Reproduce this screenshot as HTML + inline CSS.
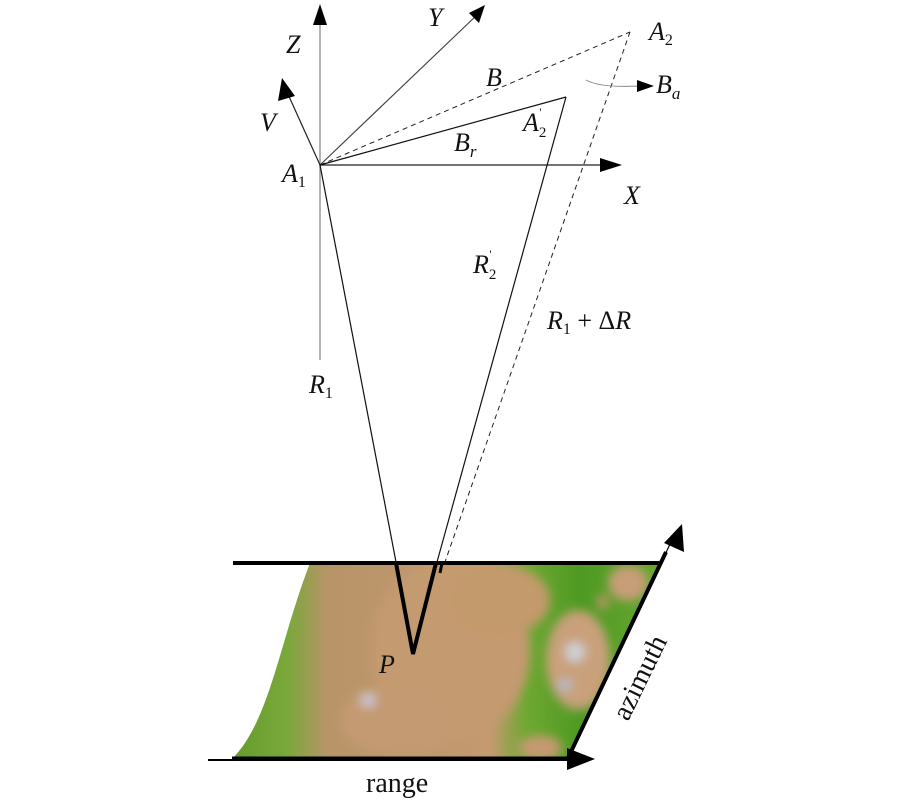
<!DOCTYPE html>
<html><head><meta charset="utf-8"><style>html,body{margin:0;padding:0;background:#fff}svg{display:block}text{font-family:"Liberation Serif",serif;font-style:italic;fill:#111}.n{font-style:normal}</style></head><body>
<svg width="901" height="800" viewBox="0 0 901 800" xmlns="http://www.w3.org/2000/svg">
<defs>
<linearGradient id="g1" x1="0" y1="0" x2="1" y2="0">
<stop offset="0" stop-color="#5f9a2a"/><stop offset="0.15" stop-color="#7aa83a"/><stop offset="0.24" stop-color="#b89468"/><stop offset="0.6" stop-color="#c49a70"/><stop offset="0.68" stop-color="#6fa832"/><stop offset="0.8" stop-color="#4e9a22"/><stop offset="1" stop-color="#6aa830"/>
</linearGradient>
<clipPath id="cp"><path d="M310,563 L660,563 L570,758 L233,758 C270,720 280,640 310,563 Z"/></clipPath>
<filter id="bl"><feGaussianBlur stdDeviation="5"/></filter>
</defs>
<g clip-path="url(#cp)">
<rect x="220" y="560" width="450" height="200" fill="url(#g1)"/>
<g filter="url(#bl)">
<ellipse cx="450" cy="650" rx="80" ry="90" fill="#c49a70"/>
<ellipse cx="500" cy="600" rx="50" ry="35" fill="#c39a6c"/>
<ellipse cx="400" cy="720" rx="60" ry="35" fill="#c49a72"/>
<ellipse cx="578" cy="660" rx="32" ry="50" fill="#c9a07a"/>
<ellipse cx="628" cy="583" rx="20" ry="18" fill="#c79e78"/>
<ellipse cx="540" cy="748" rx="22" ry="13" fill="#c49a70"/>
<ellipse cx="575" cy="652" rx="10" ry="10" fill="#d0d0d6"/>
<ellipse cx="565" cy="685" rx="8" ry="7" fill="#b8b8c0"/>
<ellipse cx="368" cy="700" rx="8" ry="7" fill="#c8c8d0"/>
<ellipse cx="603" cy="602" rx="6" ry="8" fill="#b89468"/>
</g>
</g>
<line x1="233" y1="563" x2="662" y2="563" stroke="#000" stroke-width="4"/>
<line x1="208" y1="760" x2="572" y2="760" stroke="#000" stroke-width="2"/>
<line x1="232" y1="758" x2="570" y2="758" stroke="#000" stroke-width="3"/>
<polygon points="567,748 595,759 567,770" fill="#000"/>
<line x1="568" y1="758" x2="666" y2="552" stroke="#000" stroke-width="4"/>
<line x1="660" y1="565" x2="672" y2="540" stroke="#000" stroke-width="1.2"/>
<polygon points="682,524 684,552 664,543" fill="#000"/>
<line x1="320" y1="360" x2="320" y2="20" stroke="#999" stroke-width="1.5"/>
<polygon points="320,4 313,25 327,25" fill="#000"/>
<line x1="320" y1="165" x2="478" y2="14" stroke="#444" stroke-width="1.2"/>
<polygon points="485,5 469,13 479,23" fill="#000"/>
<line x1="320" y1="165" x2="287" y2="92" stroke="#222" stroke-width="1.2"/>
<polygon points="282,78 278,101 295,96" fill="#000"/>
<line x1="320" y1="165" x2="602" y2="165" stroke="#222" stroke-width="1.2"/>
<polygon points="622,165 600,158 600,172" fill="#000"/>
<line x1="320" y1="165" x2="630" y2="32" stroke="#222" stroke-width="1" stroke-dasharray="5,4"/>
<line x1="320" y1="165" x2="566" y2="97" stroke="#111" stroke-width="1.2"/>
<line x1="566" y1="97" x2="437" y2="562" stroke="#111" stroke-width="1.2"/>
<line x1="630" y1="32" x2="445" y2="562" stroke="#222" stroke-width="1" stroke-dasharray="5,4"/>
<line x1="320" y1="165" x2="396" y2="562" stroke="#111" stroke-width="1.2"/>
<polyline points="396,563 413,654 436,563" fill="none" stroke="#000" stroke-width="4"/>
<line x1="442" y1="563" x2="440" y2="573" stroke="#000" stroke-width="3"/>
<path d="M586,80 Q600,88 640,86" fill="none" stroke="#888" stroke-width="1"/>
<polygon points="654,86 637,80 637,92" fill="#000"/>
<text x="286" y="53" font-size="26">Z</text>
<text x="428" y="26" font-size="26">Y</text>
<text x="260" y="131" font-size="26">V</text>
<text x="282" y="182" font-size="26">A<tspan class="n" font-size="16" dy="5">1</tspan></text>
<text x="486" y="86" font-size="26">B</text>
<text x="454" y="151" font-size="26">B<tspan font-size="17" dy="6">r</tspan></text>
<text x="523" y="131" font-size="26">A<tspan class="n" font-size="15" dy="6">2</tspan><tspan class="n" font-size="12" dx="-7" dy="-21">'</tspan></text>
<text x="649" y="40" font-size="26">A<tspan class="n" font-size="16" dy="5">2</tspan></text>
<text x="656" y="93" font-size="26">B<tspan font-size="17" dy="6">a</tspan></text>
<text x="624" y="204" font-size="26">X</text>
<text x="473" y="273" font-size="26">R<tspan class="n" font-size="15" dy="6">2</tspan><tspan class="n" font-size="12" dx="-7" dy="-21">'</tspan></text>
<text x="547" y="329" font-size="26">R<tspan class="n" font-size="16" dy="5">1</tspan><tspan class="n" dy="-5"> + Δ</tspan>R</text>
<text x="309" y="393" font-size="26">R<tspan class="n" font-size="16" dy="5">1</tspan></text>
<text x="379" y="673" font-size="26">P</text>
<text class="n" x="366" y="792" font-size="28">range</text>
<text class="n" transform="translate(628,722) rotate(-64)" font-size="28">azimuth</text>
</svg>
</body></html>
